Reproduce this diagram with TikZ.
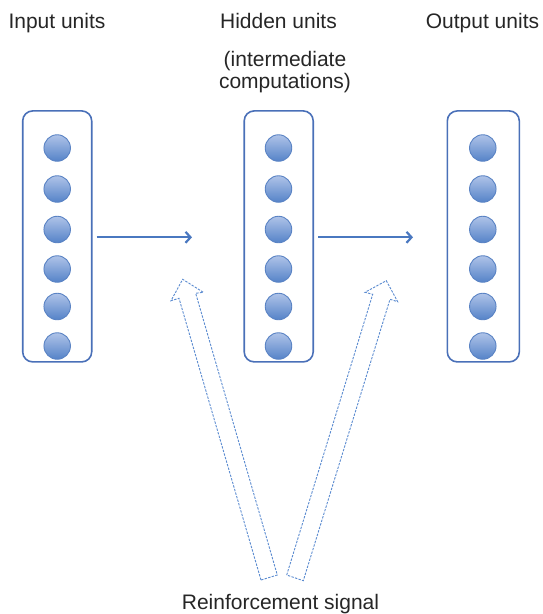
\documentclass[tikz,border=0pt]{standalone}
\usepackage{fontspec}
\setmainfont{Liberation Sans}
\usetikzlibrary{arrows.meta}
\definecolor{boxblue}{HTML}{4A70B8}
\definecolor{arrblue}{HTML}{4A78C0}
\definecolor{unittop}{HTML}{AFC3E8}
\definecolor{unitbot}{HTML}{5583C8}
\definecolor{unitedge}{HTML}{5A83C4}
\definecolor{hollowblue}{HTML}{5B8BD0}
\begin{document}
\begin{tikzpicture}[x=1pt,y=-1pt,
  layerbox/.style={draw=boxblue,line width=1.6pt,rounded corners=10pt,minimum height=251pt,inner sep=0pt},
  unit/.style={circle,draw=unitedge,line width=0.9pt,top color=unittop,bottom color=unitbot,minimum size=26.5pt,inner sep=0pt},
  lbl/.style={font=\fontsize{21}{24}\selectfont,anchor=base,inner sep=0pt,text=black!85},
  flow/.style={draw=arrblue,line width=2.2pt,-{Straight Barb[length=5pt,width=11pt,line width=2.2pt]}},
  hollow/.style={draw=hollowblue,line width=0.9pt,dash pattern=on 2.4pt off 1.3pt,line join=miter}
  ]
\useasboundingbox (0,0) rectangle (542,614);
% layer boxes
\node[layerbox,minimum width=69pt] (inbox) at (57.2,236.4) {};
\node[layerbox,minimum width=69pt] (hidbox) at (278.7,236.4) {};
\node[layerbox,minimum width=72pt] (outbox) at (483.3,236.4) {};
% units
\foreach \b/\x in {in/57.2,hid/278.5,out/482.8}{
  \foreach \y [count=\i] in {148,189,229.5,269,306.5,346}{
    \node[unit] (\b\i) at (\x,\y) {};
  }
}
% labels
\node[lbl] (linput) at (57,28) {Input units};
\node[lbl] (lhidden) at (278.5,28) {Hidden units};
\node[lbl] (loutput) at (482.5,28) {Output units};
\node[lbl] (linter1) at (285,66.5) {(intermediate};
\node[lbl] (linter2) at (285,88) {computations)};
\node[lbl] (lreinf) at (280.5,609) {Reinforcement signal};
% flow arrows
\coordinate (f1end) at (192,237.3);
\coordinate (f2end) at (413,237.3);
\draw[flow] ([xshift=4pt]inbox.east |- f1end) -- (f1end);
\draw[flow] ([xshift=4pt]hidbox.east |- f2end) -- (f2end);
% hollow reinforcement arrows
\draw[hollow] (261,580) -- (179,298.3) -- (171,300.7) -- (182.7,279.3) -- (203.3,292.3) -- (195.7,293.3) -- (277.3,575) -- cycle;
\draw[hollow] (286.7,575) -- (372.7,294.3) -- (365,292.3) -- (386.3,280.7) -- (397.7,301.7) -- (390,299.3) -- (303.3,580.7) -- cycle;
\end{tikzpicture}
\end{document}
